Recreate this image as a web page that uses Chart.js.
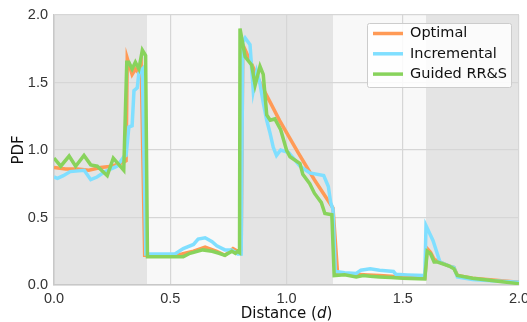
<!DOCTYPE html>
<html>
<head>
<meta charset="utf-8">
<script src="https://cdn.jsdelivr.net/npm/chart.js@4"></script>
<style>
	html, body { margin: 0; padding: 0; background: #fff; }
</style>
</head>
<body>
<canvas id="chart" width="527" height="322"></canvas>
<script>
// DATA
const tickValues = [0, 0.5, 1.0, 1.5, 2.0];
const bandEdges = [0, 0.4, 0.8, 1.2, 1.6, 2.0];
const seriesNames = ["Optimal", "Incremental", "Guided RR&S"];

const optimalX = [0, 0.05, 0.1, 0.15, 0.2, 0.25, 0.3, 0.31, 0.315, 0.336, 0.35, 0.365, 0.375, 0.39, 0.45, 0.5, 0.55, 0.6, 0.65, 0.7, 0.735, 0.77, 0.79, 0.805, 0.812, 0.886, 0.97, 1.05, 1.12, 1.2, 1.22, 1.3, 1.35, 1.4, 1.45, 1.5, 1.595, 1.605, 1.62, 1.635, 1.66, 1.7, 1.72, 1.735, 1.8, 1.9, 2.0];
const optimalY = [0.87, 0.86, 0.86, 0.85, 0.87, 0.88, 0.91, 0.92, 1.68, 1.56, 1.6, 1.57, 1.63, 0.22, 0.22, 0.22, 0.23, 0.25, 0.28, 0.25, 0.22, 0.27, 0.25, 0.26, 1.78, 1.5, 1.22, 0.98, 0.78, 0.57, 0.08, 0.08, 0.075, 0.07, 0.065, 0.06, 0.05, 0.27, 0.24, 0.19, 0.17, 0.14, 0.13, 0.07, 0.05, 0.035, 0.02];

const incrementalX = [0, 0.015, 0.04, 0.07, 0.13, 0.158, 0.185, 0.22, 0.272, 0.3, 0.31, 0.322, 0.336, 0.344, 0.358, 0.365, 0.38, 0.395, 0.45, 0.52, 0.556, 0.6, 0.62, 0.65, 0.68, 0.7, 0.735, 0.765, 0.79, 0.805, 0.812, 0.822, 0.843, 0.857, 0.872, 0.885, 0.9, 0.915, 0.93, 0.943, 0.957, 0.975, 1.01, 1.058, 1.1, 1.16, 1.18, 1.19, 1.2, 1.21, 1.25, 1.3, 1.32, 1.36, 1.4, 1.46, 1.47, 1.52, 1.595, 1.6, 1.63, 1.66, 1.7, 1.72, 1.735, 1.8, 1.9, 2.0];
const incrementalY = [0.8, 0.79, 0.81, 0.84, 0.85, 0.78, 0.8, 0.84, 0.88, 0.95, 0.96, 1.17, 1.18, 1.44, 1.46, 1.57, 1.6, 0.23, 0.23, 0.23, 0.27, 0.3, 0.34, 0.35, 0.32, 0.29, 0.26, 0.26, 0.23, 0.23, 1.8, 1.83, 1.78, 1.44, 1.58, 1.5, 1.35, 1.22, 1.12, 1.02, 0.96, 1.0, 0.98, 0.88, 0.83, 0.81, 0.73, 0.61, 0.56, 0.1, 0.09, 0.085, 0.11, 0.12, 0.11, 0.1, 0.08, 0.075, 0.07, 0.44, 0.33, 0.17, 0.14, 0.13, 0.06, 0.04, 0.03, 0.02];

const guidedX = [0, 0.029, 0.065, 0.093, 0.129, 0.158, 0.186, 0.229, 0.255, 0.28, 0.3, 0.313, 0.322, 0.336, 0.35, 0.365, 0.38, 0.394, 0.402, 0.45, 0.556, 0.585, 0.64, 0.68, 0.71, 0.735, 0.765, 0.78, 0.79, 0.798, 0.8, 0.822, 0.85, 0.865, 0.886, 0.9, 0.915, 0.93, 0.95, 0.975, 1.0, 1.015, 1.058, 1.07, 1.1, 1.12, 1.15, 1.165, 1.195, 1.205, 1.25, 1.3, 1.33, 1.36, 1.4, 1.45, 1.5, 1.595, 1.605, 1.62, 1.635, 1.65, 1.7, 1.72, 1.735, 1.8, 1.9, 2.0];
const guidedY = [0.94, 0.88, 0.955, 0.88, 0.96, 0.89, 0.88, 0.81, 0.94, 0.89, 0.85, 1.65, 1.65, 1.6, 1.65, 1.6, 1.74, 1.7, 0.21, 0.21, 0.21, 0.235, 0.26, 0.25, 0.235, 0.22, 0.25, 0.235, 0.25, 0.24, 1.9, 1.69, 1.63, 1.48, 1.62, 1.56, 1.26, 1.22, 1.23, 1.15, 1.0, 0.95, 0.9, 0.82, 0.75, 0.68, 0.61, 0.53, 0.52, 0.07, 0.075, 0.06, 0.07, 0.065, 0.06, 0.055, 0.05, 0.045, 0.25, 0.23, 0.17, 0.17, 0.14, 0.12, 0.07, 0.05, 0.03, 0.01];

// STYLE
const colors = ["#ff9a56", "#80dfff", "#88d35c"];
const bandColors = ["#e4e4e4", "#f8f8f8"];
const gridColor = "#d6d6d6";
const tickFont = { family: "'Liberation Sans', Arial, sans-serif", size: 14.5 };
const titleFamily = "'DejaVu Sans', sans-serif";

const toPoints = (xs, ys) => xs.map((x, i) => ({ x, y: ys[i] }));

// alternating shaded bands behind the plot
const bandsPlugin = {
	id: "bands",
	beforeDraw(chart) {
		const { ctx, chartArea, scales } = chart;
		ctx.save();
		for (let i = 0; i < bandEdges.length - 1; i++) {
			const x0 = scales.x.getPixelForValue(bandEdges[i]);
			const x1 = scales.x.getPixelForValue(bandEdges[i + 1]);
			ctx.fillStyle = bandColors[i % 2];
			ctx.fillRect(x0, chartArea.top, x1 - x0, chartArea.bottom - chartArea.top);
		}
		ctx.restore();
	},
};

// legend inside the plot + x title with italic d
const overlayPlugin = {
	id: "overlay",
	afterDraw(chart) {
		const { ctx, chartArea } = chart;
		ctx.save();
		const bx = 367, by = 23, bw = 144, bh = 64;
		ctx.fillStyle = "rgba(255,255,255,0.85)";
		ctx.strokeStyle = "#cccccc";
		ctx.lineWidth = 1;
		ctx.beginPath();
		ctx.roundRect(bx + 0.5, by + 0.5, bw, bh, 2);
		ctx.fill();
		ctx.stroke();
		ctx.font = `14.5px ${titleFamily}`;
		ctx.textBaseline = "middle";
		seriesNames.forEach((name, i) => {
			const y = 33.5 + i * 20.3;
			ctx.strokeStyle = colors[i];
			ctx.lineWidth = 3.5;
			ctx.beginPath();
			ctx.moveTo(373, y);
			ctx.lineTo(403, y);
			ctx.stroke();
			ctx.fillStyle = "#111111";
			ctx.fillText(name, 410, y);
		});

		// x axis title
		const parts = [["Distance (", ""], ["d", "italic "], [")", ""]];
		const size = 15;
		let total = 0;
		parts.forEach(([t, st]) => {
			ctx.font = `${st}${size}px ${titleFamily}`;
			total += ctx.measureText(t).width;
		});
		let x = (chartArea.left + chartArea.right) / 2 - total / 2;
		ctx.fillStyle = "#111111";
		ctx.textBaseline = "alphabetic";
		parts.forEach(([t, st]) => {
			ctx.font = `${st}${size}px ${titleFamily}`;
			ctx.fillText(t, x, 318);
			x += ctx.measureText(t).width;
		});
		ctx.restore();
	},
};

const chart = new Chart(document.getElementById("chart"), {
	type: "line",
	data: {
		datasets: [
			[optimalX, optimalY],
			[incrementalX, incrementalY],
			[guidedX, guidedY],
		].map(([xs, ys], i) => ({
			label: seriesNames[i],
			data: toPoints(xs, ys),
			borderColor: colors[i],
			backgroundColor: colors[i],
			borderWidth: 3.5,
			pointRadius: 0,
			tension: 0,
			fill: false,
			order: 3 - i,
		})),
	},
	options: {
		responsive: false,
		animation: false,
		layout: { padding: { top: 15, right: 8, bottom: 0, left: 0 } },
		plugins: {
			legend: { display: false },
			tooltip: { enabled: false },
		},
		scales: {
			x: {
				type: "linear",
				min: 0,
				max: 2,
				afterBuildTicks: (scale) => { scale.ticks = tickValues.map((v) => ({ value: v })); },
				afterFit: (scale) => {
					scale.height = 37;
					scale.paddingLeft = 0;
					scale.paddingRight = 0;
				},
				grid: { color: gridColor, drawTicks: false, lineWidth: 1.2 },
				border: { color: "#c8c8c8", width: 1.5 },
				ticks: {
					padding: 5,
					color: "#333333",
					font: tickFont,
					maxRotation: 0,
					callback: (v) => v.toFixed(1),
				},
			},
			y: {
				min: 0,
				max: 2,
				afterBuildTicks: (scale) => { scale.ticks = tickValues.map((v) => ({ value: v })); },
				afterFit: (scale) => {
					scale.width = 54;
				},
				grid: { color: gridColor, drawTicks: false, lineWidth: 1.2 },
				border: { color: "#c8c8c8", width: 1.5 },
				title: {
					display: true,
					text: "PDF",
					color: "#111111",
					font: { family: titleFamily, size: 15 },
					padding: { top: 10, bottom: 0 },
				},
				ticks: {
					padding: 6,
					color: "#333333",
					font: tickFont,
					callback: (v) => v.toFixed(1),
				},
			},
		},
	},
	plugins: [bandsPlugin, overlayPlugin],
});
</script>
</body>
</html>
